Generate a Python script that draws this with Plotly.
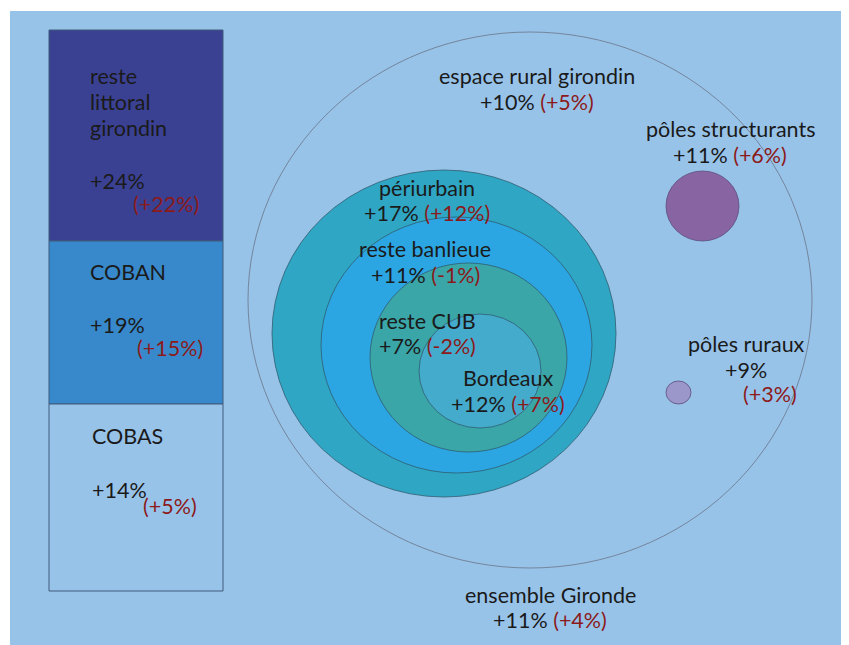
import plotly.graph_objects as go

# ---- data ----
zones = ["reste littoral girondin", "COBAN", "COBAS",
         "espace rural girondin", "pôles structurants", "pôles ruraux",
         "périurbain", "reste banlieue", "reste CUB", "Bordeaux",
         "ensemble Gironde"]
growth = [24, 19, 14, 10, 11, 9, 17, 11, 7, 12, 11]
other = [22, 15, 5, 5, 6, 3, 12, -1, -2, 7, 4]

# ---- styling ----
BG = "#98C3E9"
RED = "#8B1A1A"
TXT = "#1a1a1a"
FONT = "Lato"
FS = 21.5

def pct(v):
    return f"{v:+d}%"

fig = go.Figure()
fig.add_trace(go.Scatter(x=[10, 840], y=[10, 640], mode="markers",
                         marker=dict(opacity=0), hoverinfo="skip", showlegend=False))

shapes = []
# background panel
shapes.append(dict(type="rect", x0=10, x1=848, y0=11, y1=650,
                   fillcolor=BG, line=dict(width=0), layer="below"))
# left stacked rectangles
rects = [(30, 241, "#3A4193"), (241, 404, "#3889CB"), (404, 591, BG)]
for y0, y1, col in rects:
    shapes.append(dict(type="rect", x0=49, x1=223, y0=y0, y1=y1,
                       fillcolor=col, line=dict(color="#3f5a7a", width=1), layer="below"))
# circles (x0, x1, y0, y1, fill)
circles = [
    (248, 812, 32, 568, "rgba(0,0,0,0)", "#6a7588"),
    (272, 616, 170, 497, "#2FA6C4", "#2f5d70"),
    (321, 592, 217, 473, "#2CA6E3", "#2f5d70"),
    (370, 567, 263, 452, "#3AA6A8", "#2f5d70"),
    (419, 541, 314, 428, "#45ABCD", "#2f5d70"),
    (666, 739, 171, 241, "#8864A3", "#5a4c78"),
    (666, 691, 381, 404, "#9B97CB", "#5a4c78"),
]
for x0, x1, y0, y1, col, lc in circles:
    shapes.append(dict(type="circle", x0=x0, x1=x1, y0=y0, y1=y1,
                       fillcolor=col, line=dict(color=lc, width=0.8), layer="below"))

ann = []
def txt(x, y, s, color=TXT, xanchor="left"):
    ann.append(dict(x=x, y=y, text=s, showarrow=False, xanchor=xanchor,
                    yanchor="middle", font=dict(family=FONT, size=FS, color=color)))

def red(v):
    return f"<span style='color:{RED}'>({pct(v)})</span>"

# left column
txt(88, 76, "reste")
txt(88, 102, "littoral")
txt(88, 128, "girondin")
txt(88, 181, pct(growth[0]))
txt(131, 204, f"({pct(other[0])})", RED)
txt(88, 272, zones[1])
txt(88, 325, pct(growth[1]))
txt(135, 348, f"({pct(other[1])})", RED)
txt(90, 436, zones[2])
txt(90, 490, pct(growth[2]))
txt(141, 506, f"({pct(other[2])})", RED)

# circle labels
centered = [
    (3, 537, 76, 102),
    (4, 730, 129, 155),
    (6, 427, 188, 213),
    (7, 425, 249, 275),
    (8, 427, 321, 346),
    (9, 508, 378, 404),
    (10, 550, 595, 620),
]
for i, x, y1, y2 in centered:
    txt(x, y1, zones[i], xanchor="center")
    txt(x, y2, f"{pct(growth[i])} {red(other[i])}", xanchor="center")
txt(746, 344, zones[5], xanchor="center")
txt(746, 370, pct(growth[5]), xanchor="center")
txt(770, 394, f"({pct(other[5])})", RED, xanchor="center")

# page body has an 8px margin: draw in page coordinates
fig.update_layout(
    width=841, height=637, margin=dict(l=0, r=0, t=0, b=0),
    paper_bgcolor="white", plot_bgcolor="white",
    xaxis=dict(range=[8, 849], visible=False, fixedrange=True),
    yaxis=dict(range=[645, 8], visible=False, fixedrange=True),
    shapes=shapes, annotations=ann, showlegend=False,
)
fig.write_html("out.html")
